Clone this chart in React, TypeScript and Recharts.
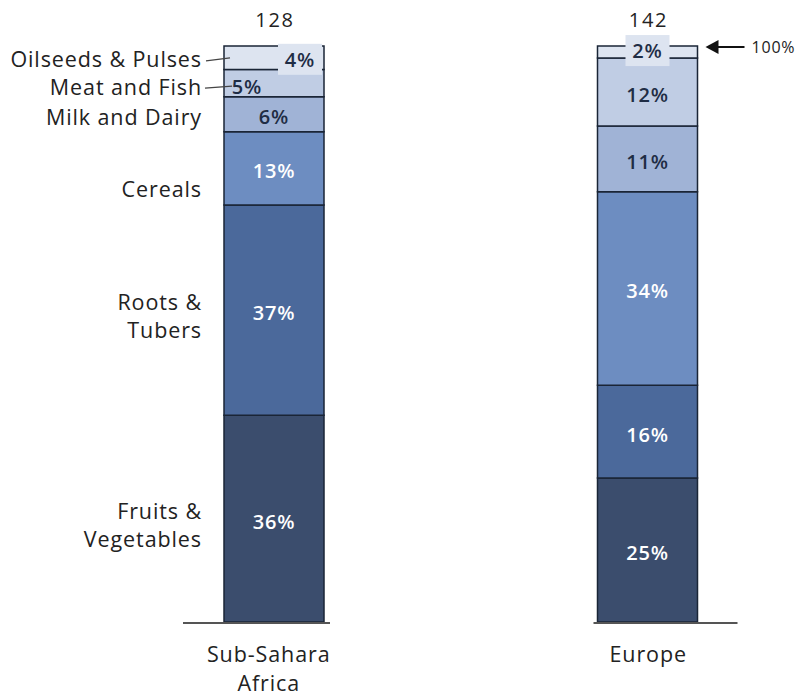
import React from 'react';
import { BarChart, Bar, XAxis, YAxis, LabelList } from 'recharts';

const categories = ['Sub-Sahara Africa', 'Europe'];
const categoryLines = [['Sub-Sahara', 'Africa'], ['Europe']];
const totals = [128, 142];

const fruitsVeg = [35.9, 25.0];
const rootsTubers = [36.5, 16.1];
const cereals = [12.7, 33.6];
const milkDairy = [6.1, 11.4];
const meatFish = [4.7, 11.8];
const oilseedsPulses = [4.1, 2.1];

const seriesKeys = ['fruitsVeg', 'rootsTubers', 'cereals', 'milkDairy', 'meatFish', 'oilseedsPulses'];
const seriesValues = [fruitsVeg, rootsTubers, cereals, milkDairy, meatFish, oilseedsPulses];
const seriesLabels = [
  ['Fruits &', 'Vegetables'],
  ['Roots &', 'Tubers'],
  ['Cereals'],
  ['Milk and Dairy'],
  ['Meat and Fish'],
  ['Oilseeds & Pulses'],
];

// styles
const colors = ['#3b4d6d', '#4b699b', '#6d8dc1', '#a0b3d6', '#c0cde4', '#dde4f0'];
const textColors = ['#ffffff', '#ffffff', '#ffffff', '#1f2d45', '#1f2d45', '#1f2d45'];
const sideLabelDy = [7, 6, 21, 3, 4, 2];
const baseExt = [
  [41, 6],
  [4, 40],
];
const FONT = '"Open Sans", Lato, sans-serif';
const STROKE = '#1a2536';
const LS = 0.9;

const data = categories.map((name, i) => {
  const row: any = { name, total: totals[i] };
  seriesKeys.forEach((k, s) => {
    row[k] = seriesValues[s][i];
  });
  return row;
});

const getBox = (props: any) => {
  const vb = props.viewBox || {};
  const x = props.x ?? vb.x;
  const y = props.y ?? vb.y;
  const width = props.width ?? vb.width;
  const height = props.height ?? vb.height;
  return { x: Number(x), y: Number(y), width: Number(width), height: Number(height) };
};

const makeContent = (s: number) => (props: any) => {
  const { x, y, width, height } = getBox(props);
  const index = props.index;
  const value = props.value;
  const pct = `${Math.round(Number(value))}%`;
  const cx = x + width / 2;
  const cy = y + height / 2;
  const els: any[] = [];
  let vx = cx;
  if (s === 5) {
    const bx = index === 0 ? x + width - 24 : cx;
    const by = index === 0 ? cy + 2 : cy - 1;
    vx = bx;
    els.push(
      <rect key="box" x={bx - 22} y={by - 16} width={44} height={31} fill="#dde4f0" />
    );
    els.push(
      <text key="v" x={bx} y={by} dy="0.35em" textAnchor="middle" fill={textColors[s]}
        fontSize={20} fontWeight={600} letterSpacing={0.8} fontFamily={FONT}>{pct}</text>
    );
  } else {
    if (s === 4 && index === 0) vx = x + 23;
    els.push(
      <text key="v" x={vx} y={cy + (s === 4 && index === 0 ? 4 : 3)} dy="0.35em" textAnchor="middle" fill={textColors[s]}
        fontSize={20} fontWeight={600} letterSpacing={0.8} fontFamily={FONT}>{pct}</text>
    );
  }
  if (index === 0) {
    const lines = seriesLabels[s];
    const lh = 28;
    const startY = cy + sideLabelDy[s] - ((lines.length - 1) * lh) / 2;
    lines.forEach((ln, li) => {
      els.push(
        <text key={'s' + li} x={x - 22} y={startY + li * lh} dy="0.35em" textAnchor="end"
          fill="#222" fontSize={21.5} letterSpacing={LS} fontFamily={FONT}>{ln}</text>
      );
    });
    if (s === 5) {
      els.push(<line key="l5" x1={x - 18} y1={cy + 3} x2={x + 6} y2={cy} stroke="#444" strokeWidth={1.3} />);
    }
    if (s === 4) {
      els.push(<line key="l4" x1={x - 19} y1={cy + 5} x2={x + 8} y2={cy + 3} stroke="#444" strokeWidth={1.3} />);
    }
  }
  if (s === 5) {
    els.push(
      <text key="t" x={cx + 1} y={y - 26} dy="0.35em" textAnchor="middle" fill="#222"
        fontSize={20} letterSpacing={1.8} fontFamily={FONT}>{totals[index]}</text>
    );
    if (index === 1) {
      const ax = x + width + 8;
      els.push(<line key="al" x1={ax + 6} y1={y + 1} x2={ax + 39} y2={y + 1} stroke="#111" strokeWidth={2.2} />);
      els.push(<path key="ah" d={`M${ax},${y + 1} L${ax + 13},${y - 6} L${ax + 13},${y + 8} Z`} fill="#111" />);
      els.push(
        <text key="at" x={ax + 46} y={y + 1} dy="0.35em" textAnchor="start" fill="#222"
          fontSize={16} letterSpacing={0.8} fontFamily={FONT}>100%</text>
      );
    }
  }
  return <g>{els}</g>;
};

const BaseShape = (props: any) => {
  const { x, y, width, height, fill, index } = props;
  const ext = baseExt[index] || [0, 0];
  return (
    <g>
      <rect x={x} y={y} width={width} height={height} fill={fill} stroke={STROKE} strokeWidth={1.5} />
      <line x1={x - ext[0]} x2={x + width + ext[1]} y1={y + height + 1} y2={y + height + 1} stroke="#555" strokeWidth={2} />
    </g>
  );
};

const CategoryTick = (props: any) => {
  const { x, payload } = props;
  const i = categories.indexOf(payload.value);
  const lines = categoryLines[i] || [payload.value];
  const dx = i === 0 ? -5 : 1;
  return (
    <g>
      {lines.map((ln, li) => (
        <text key={li} x={x + dx} y={622 + 32 + li * 29} dy="0.35em" textAnchor="middle" fill="#222"
          fontSize={21.5} letterSpacing={LS} fontFamily={FONT}>{ln}</text>
      ))}
    </g>
  );
};

export default function App() {
  return (
    <div style={{ position: 'absolute', left: 0, top: 0, width: 802, height: 696, overflow: 'hidden', background: '#fff' }}>
      <BarChart width={834} height={696} data={data} margin={{ top: 46, right: 0, bottom: 0, left: 87 }} barCategoryGap={0}>
        <XAxis dataKey="name" axisLine={false} tickLine={false} height={74} tick={<CategoryTick />} interval={0} />
        <YAxis hide domain={[0, 100]} />
        {seriesKeys.map((k, s) => (
          <Bar key={k} dataKey={k} stackId="a" barSize={100} fill={colors[s]} stroke={STROKE} strokeWidth={1.5}
            isAnimationActive={false} shape={s === 0 ? <BaseShape /> : undefined}>
            <LabelList dataKey={k} content={makeContent(s)} />
          </Bar>
        ))}
      </BarChart>
    </div>
  );
}
